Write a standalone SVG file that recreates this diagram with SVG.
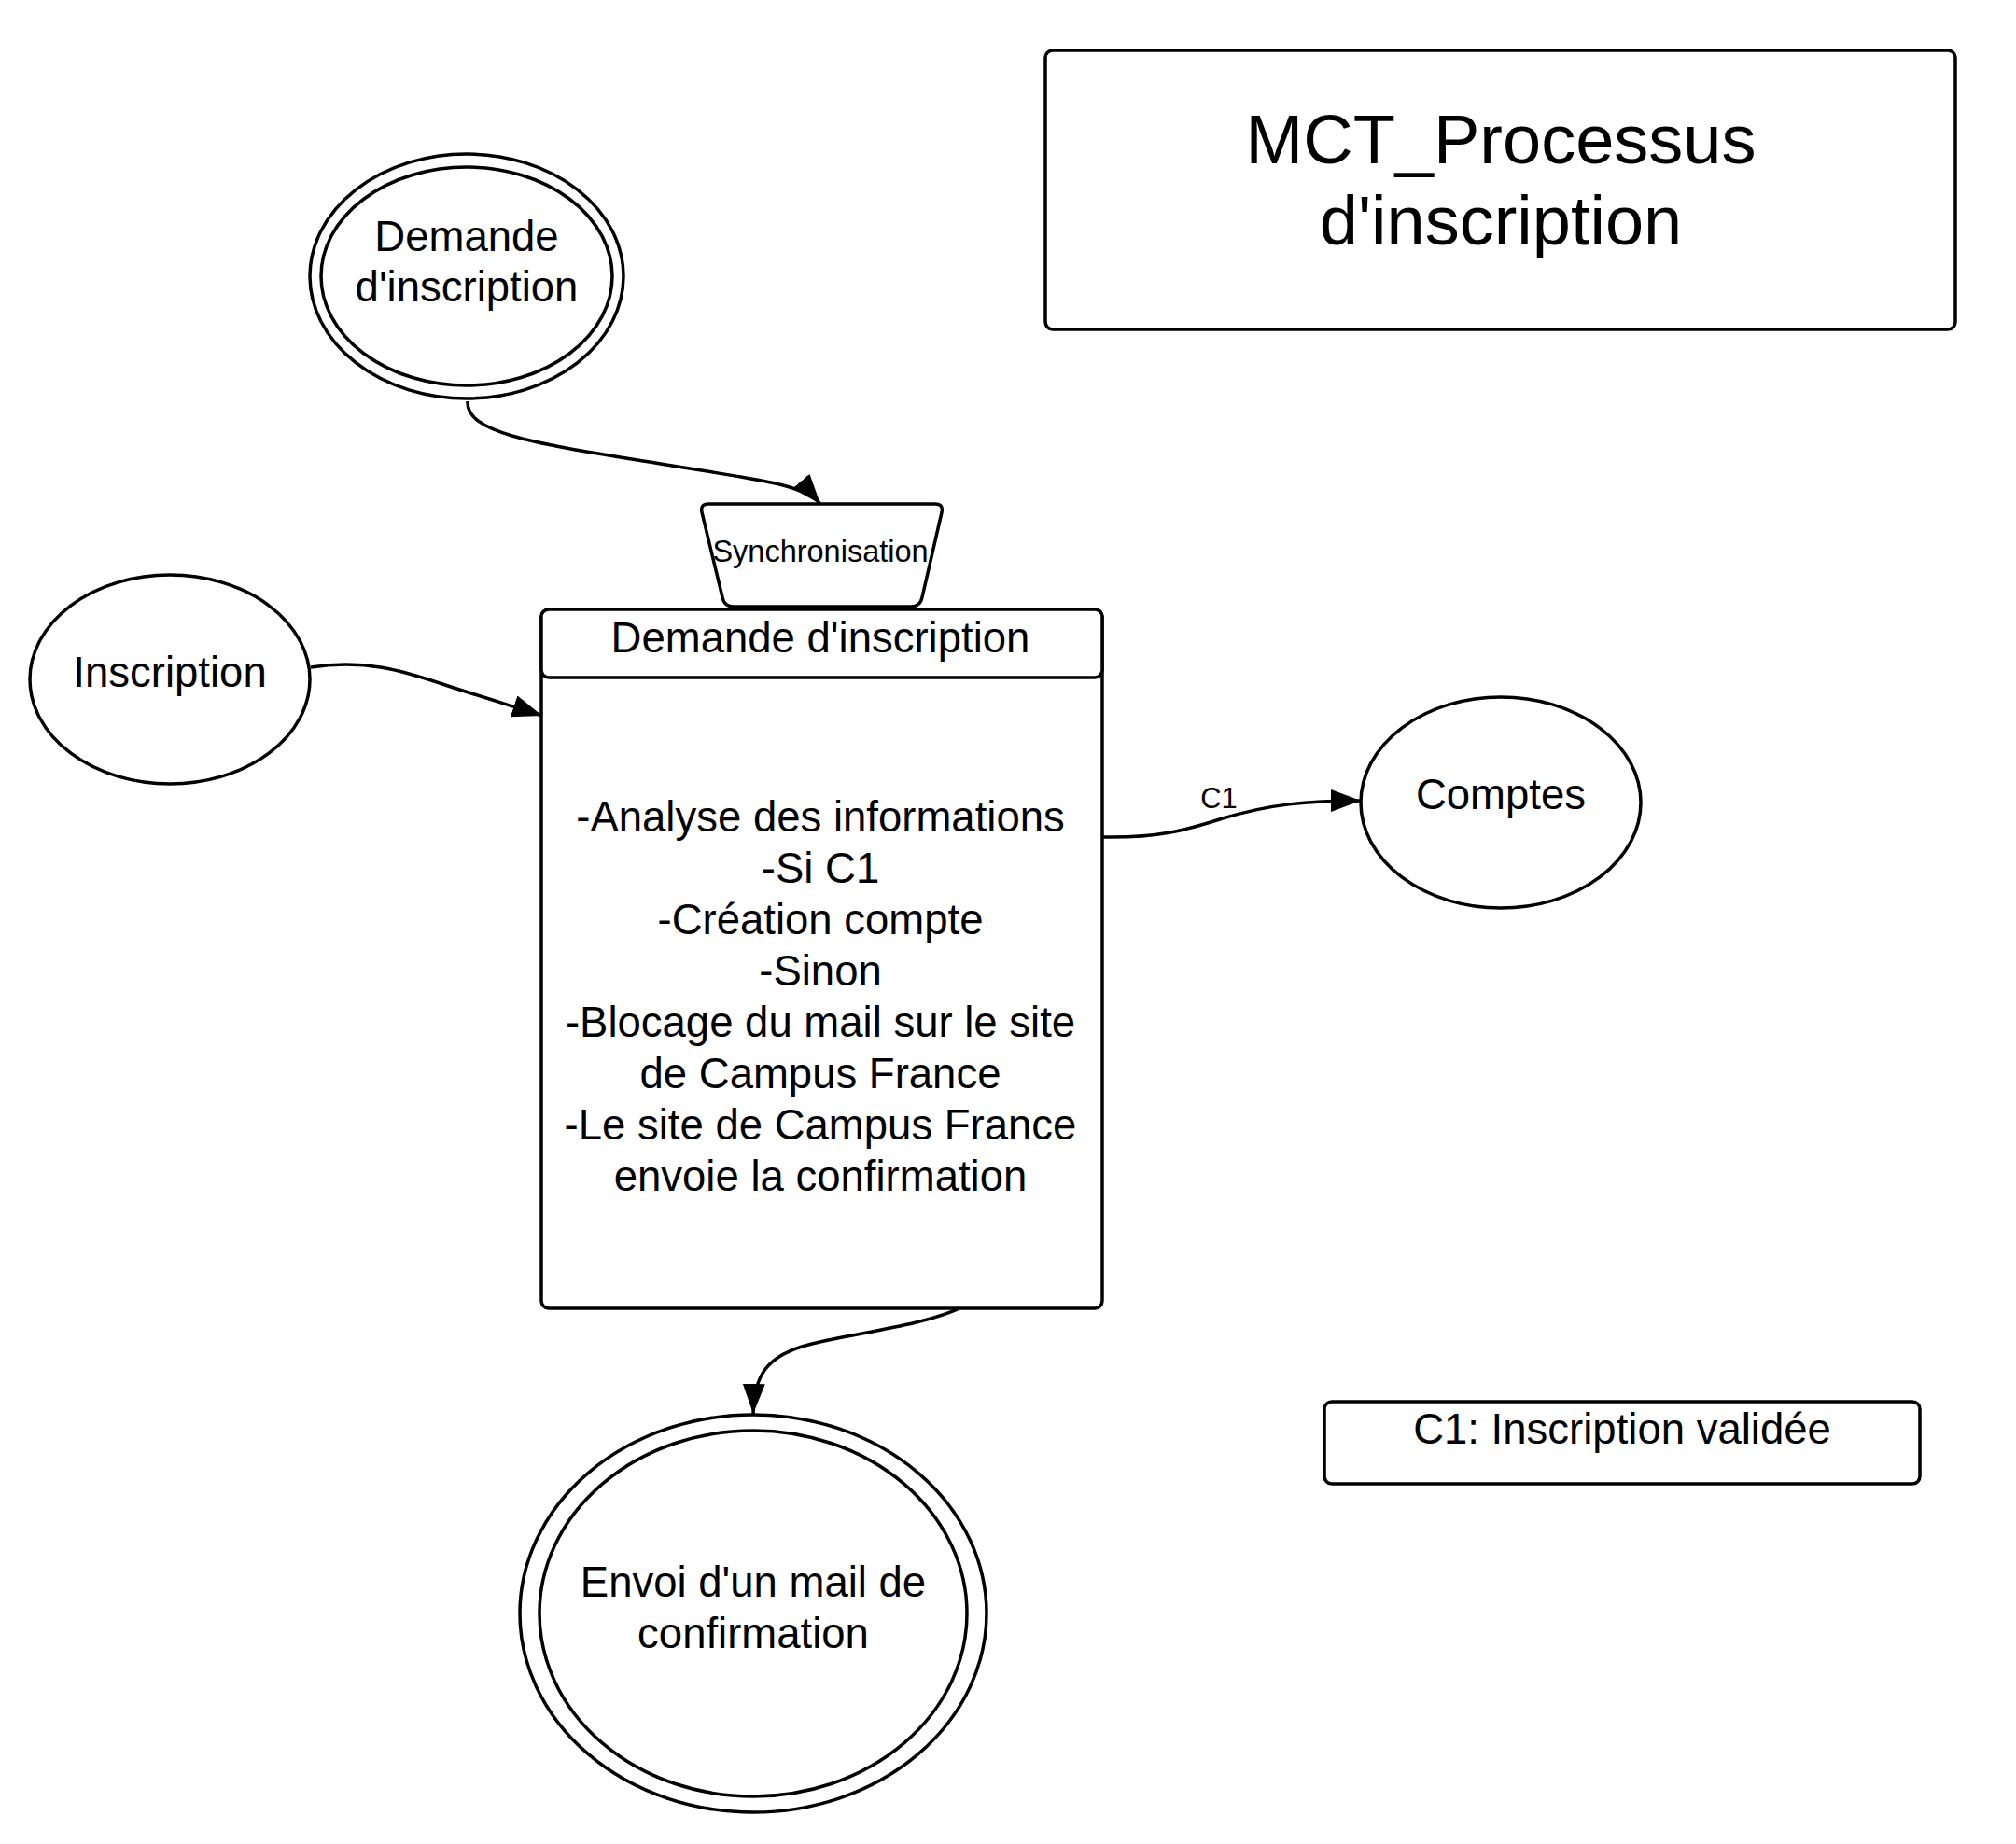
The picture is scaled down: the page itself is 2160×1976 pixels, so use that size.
<svg xmlns="http://www.w3.org/2000/svg" width="2160" height="1976" viewBox="0 0 2160 1976">
<style>
.s{fill:#fff;stroke:#000;stroke-width:3.5}
.l{fill:none;stroke:#000;stroke-width:3.5}
text{font-family:"Liberation Sans",Arial,sans-serif;fill:#000;text-anchor:middle}
.t45{font-size:45.5px}
</style>
<defs>
<marker id="ar" markerUnits="userSpaceOnUse" markerWidth="34" markerHeight="26" refX="32" refY="12" orient="auto">
<path d="M0,0 L32,12 L0,24 z" fill="#000"/>
</marker>
</defs>
<rect width="2160" height="1976" fill="#fff"/>
<g id="title">
<rect class="s" x="1120" y="54" width="975" height="299" rx="8"/>
<text x="1608" y="175" style="font-size:74px">MCT_Processus</text>
<text x="1608" y="262" style="font-size:74px">d'inscription</text>
</g>
<g id="demande">
<ellipse class="s" cx="500" cy="296" rx="168" ry="131"/>
<ellipse class="s" cx="500" cy="296" rx="156" ry="117"/>
<text class="t45" x="500" y="269">Demande</text>
<text class="t45" x="500" y="323">d'inscription</text>
</g>
<g id="inscription">
<ellipse class="s" cx="182" cy="728" rx="150" ry="112"/>
<text class="t45" x="182" y="736">Inscription</text>
</g>
<g id="synchronisation">
<path class="s" d="M759,540 L1002,540 Q1011,540 1009,549 L988,640 Q986,650 976,650 L786,650 Q776,650 774,640 L752,549 Q750,540 759,540 z"/>
<text x="879" y="602" style="font-size:32.5px">Synchronisation</text>
</g>
<g id="process">
<rect class="s" x="580" y="653" width="601" height="749" rx="8"/>
<rect class="s" x="580" y="653" width="601" height="73" rx="8"/>
<text class="t45" x="879" y="699">Demande d'inscription</text>
<text class="t45" x="879" y="891">-Analyse des informations</text>
<text class="t45" x="879" y="946">-Si C1</text>
<text class="t45" x="879" y="1001">-Création compte</text>
<text class="t45" x="879" y="1056">-Sinon</text>
<text class="t45" x="879" y="1111">-Blocage du mail sur le site</text>
<text class="t45" x="879" y="1166">de Campus France</text>
<text class="t45" x="879" y="1221">-Le site de Campus France</text>
<text class="t45" x="879" y="1276">envoie la confirmation</text>
</g>
<g id="comptes">
<ellipse class="s" cx="1608" cy="860" rx="150" ry="113"/>
<text class="t45" x="1608" y="867">Comptes</text>
</g>
<g id="envoi">
<ellipse class="s" cx="807" cy="1729" rx="250" ry="213"/>
<ellipse class="s" cx="807" cy="1729" rx="229" ry="196"/>
<text class="t45" x="807" y="1711">Envoi d'un mail de</text>
<text class="t45" x="807" y="1766">confirmation</text>
</g>
<g id="legend">
<rect class="s" x="1419" y="1502" width="638" height="88" rx="8"/>
<text class="t45" x="1738" y="1547">C1: Inscription validée</text>
</g>
<g id="connectors">
<path class="l" marker-end="url(#ar)" d="M501,430 C499,466 580,476 720,499 C820,515 862,520 879,540"/>
<path class="l" marker-end="url(#ar)" d="M333,715 C390,706 430,718 480,735 C520,748 560,760 581,767"/>
<path class="l" marker-end="url(#ar)" d="M1182,897 C1240,898 1270,890 1310,877 C1360,862 1400,858 1458,858"/>
<text x="1306" y="866" style="font-size:31px">C1</text>
<path class="l" marker-end="url(#ar)" d="M1028,1402 C990,1420 920,1428 870,1440 C820,1452 808,1475 807,1515"/>
</g>
</svg>
